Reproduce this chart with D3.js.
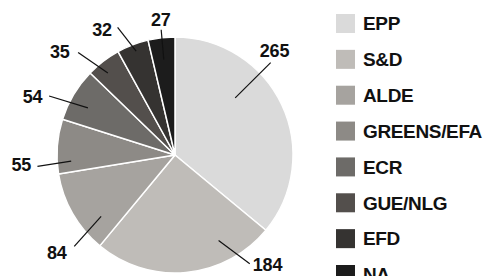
<!DOCTYPE html>
<html>
<head>
<meta charset="utf-8">
<script src="https://d3js.org/d3.v7.min.js"></script>
<style>
  body { margin: 0; background: #fff; }
  text { font-family: "Liberation Sans", Arial, sans-serif; font-weight: bold; fill: #111; }
</style>
</head>
<body>
<div id="chart"></div>
<script>
// data
var groups = ["EPP", "S&D", "ALDE", "GREENS/EFA", "ECR", "GUE/NLG", "EFD", "NA"];
var seats  = [265, 184, 84, 55, 54, 35, 32, 27];
var shades = ["#dadada", "#bfbcb8", "#a6a39f", "#8d8a86", "#6d6b68", "#534f4c", "#353331", "#1c1c1c"];

// leader line layout (degrees clockwise from top, radius in px)
var leader = [
  {a0: 46.5, r0: 83,  a1: 46,  r1: 133, ta: 43.7, tr: 144},
  {a0: 153,  r0: 96,  a1: 145.5, r1: 132, ta: 139.7, tr: 143},
  {a0: 230.3, r0: 96, a1: 227.8, r1: 136, ta: 230.6, tr: 153},
  {a0: 266.6, r0: 104, a1: 265.3, r1: 138, ta: 266.3, tr: 154},
  {a0: 298.4, r0: 99, a1: 295.1, r1: 139, ta: 292.3, tr: 154},
  {a0: 320.7, r0: 106, a1: 316.6, r1: 141, ta: 312, tr: 155},
  {a0: 339.5, r0: 111, a1: 335.8, r1: 140, ta: 329.8, tr: 145},
  {a0: 353.3, r0: 96, a1: 353.7, r1: 126, ta: 354, tr: 136}
];

var width = 485, height = 276;
var cx = 175, cy = 155, radius = 118;

var svg = d3.select("#chart").append("svg")
  .attr("width", width)
  .attr("height", height);

var color = d3.scaleOrdinal().domain(groups).range(shades);

var pie = d3.pie().sort(null).value(function(d){ return d.value; });
var arc = d3.arc().innerRadius(0).outerRadius(radius);

var rows = groups.map(function(g, i){ return {name: g, value: seats[i]}; });

var g = svg.append("g").attr("transform", "translate(" + cx + "," + cy + ")");

g.selectAll("path.slice")
  .data(pie(rows))
  .enter().append("path")
  .attr("class", "slice")
  .attr("d", arc)
  .attr("fill", function(d){ return color(d.data.name); })
  .attr("stroke", "#fff")
  .attr("stroke-width", 1.5)
  .attr("stroke-linejoin", "round");

var rad = Math.PI / 180;
function pt(a, r){ return d3.pointRadial(a * rad, r); }

g.selectAll("line.leader")
  .data(leader)
  .enter().append("line")
  .attr("class", "leader")
  .attr("x1", function(d){ return pt(d.a0, d.r0)[0]; })
  .attr("y1", function(d){ return pt(d.a0, d.r0)[1]; })
  .attr("x2", function(d){ return pt(d.a1, d.r1)[0]; })
  .attr("y2", function(d){ return pt(d.a1, d.r1)[1]; })
  .attr("stroke", "#111")
  .attr("stroke-width", 1.2);

g.selectAll("text.val")
  .data(leader)
  .enter().append("text")
  .attr("class", "val")
  .attr("x", function(d){ return pt(d.ta, d.tr)[0]; })
  .attr("y", function(d){ return pt(d.ta, d.tr)[1]; })
  .attr("text-anchor", "middle")
  .attr("dy", "0.36em")
  .style("font-size", "18px")
  .style("letter-spacing", "-0.2px")
  .text(function(d, i){ return seats[i]; });

// legend
var ly = d3.scalePoint().domain(groups).range([23.5, 274.5]);

var legend = svg.append("g").selectAll("g")
  .data(groups)
  .enter().append("g")
  .attr("transform", function(d){ return "translate(336," + ly(d) + ")"; });

legend.append("rect")
  .attr("x", 0).attr("y", -9.5)
  .attr("width", 19).attr("height", 19)
  .attr("fill", function(d){ return color(d); });

legend.append("text")
  .attr("x", 27)
  .attr("y", 0)
  .attr("dy", "0.36em")
  .style("font-size", "19px")
  .style("letter-spacing", "-0.35px")
  .text(function(d){ return d; });
</script>
</body>
</html>
